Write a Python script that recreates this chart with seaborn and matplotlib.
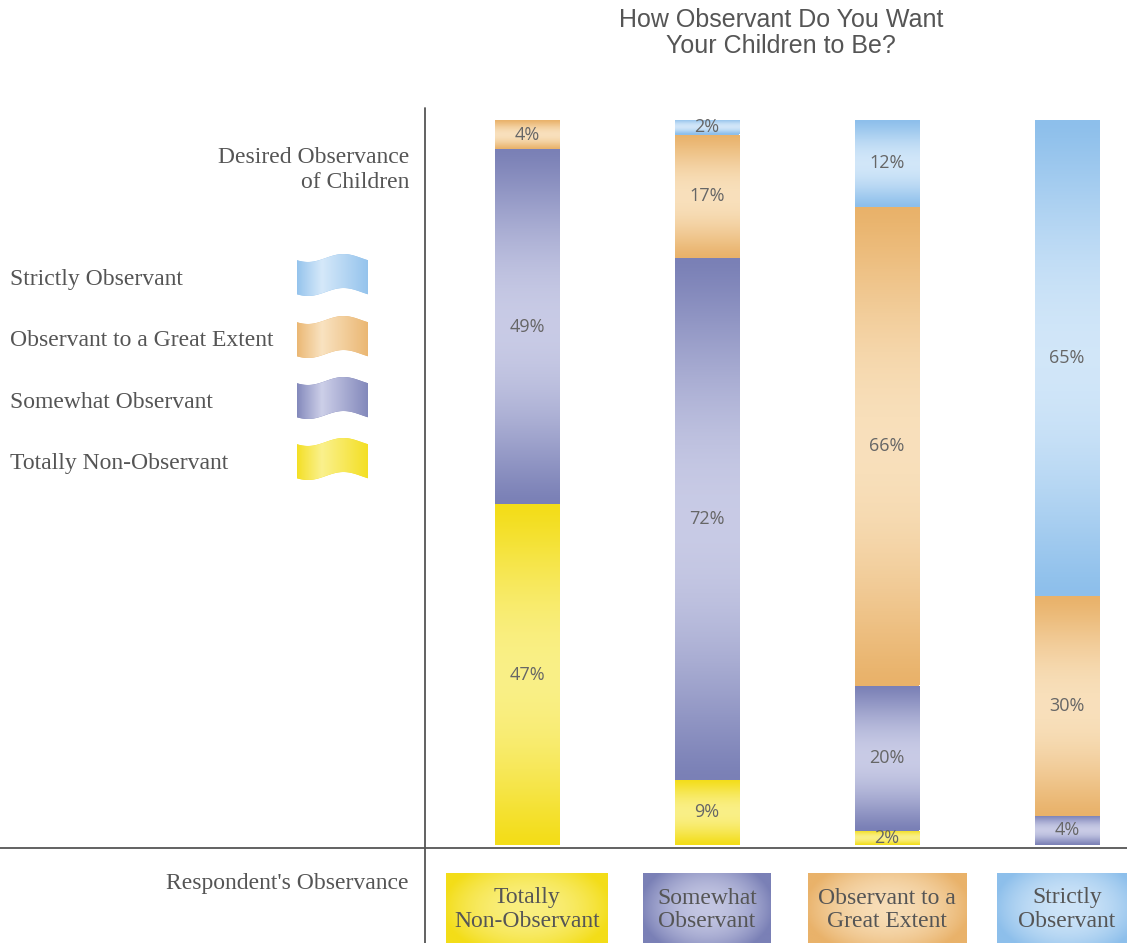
import numpy as np
import pandas as pd
import matplotlib
matplotlib.use("Agg")
import matplotlib.pyplot as plt
import seaborn as sns
from matplotlib.colors import LinearSegmentedColormap
from matplotlib.patches import Polygon, Rectangle
from matplotlib.lines import Line2D

# respondent's own observance (columns) and desired observance of children (stack layers)
respondent = ["Totally\nNon-Observant", "Somewhat\nObservant",
              "Observant to a\nGreat Extent", "Strictly\nObservant"]
desired = ["Totally Non-Observant", "Somewhat Observant",
           "Observant to a Great Extent", "Strictly Observant"]
totally_non = [47, 9, 2, 0]
somewhat = [49, 72, 20, 4]
great_extent = [4, 17, 66, 30]
strictly = [0, 2, 12, 65]

colors = ["#F3DD18", "#7A80B6", "#E9B26A", "#8DBFEB"]
lights = ["#FBF39A", "#D6D8EE", "#FBE8CA", "#DDEDFB"]
gray = "#555555"

sns.set_theme(style="white")
plt.rcParams["font.family"] = ["DejaVu Sans"]

W, H = 1127, 943
fig = plt.figure(figsize=(W / 100, H / 100), dpi=100)


def fx(px):
    return px / W


def fy(py):
    return 1 - py / H


def shade(c, lc, profile):
    return LinearSegmentedColormap.from_list("s", [c, lc])(profile)


ax = fig.add_axes([fx(425), fy(845), 1 - fx(425), fy(120) - fy(845)])

layers = [totally_non, somewhat, great_extent, strictly]
totals = np.sum(layers, axis=0)
bottom = np.zeros(len(respondent))
segs = []
for vals, c, lc in zip(layers, colors, lights):
    h = np.array(vals) / totals * 100
    n0 = len(ax.patches)
    sns.barplot(x=respondent, y=h, bottom=bottom, color=c, saturation=1,
                width=0.36, errorbar=None, order=respondent, ax=ax, linewidth=0)
    for p, v in zip(ax.patches[n0:], vals):
        segs.append((p, v, c, lc))
    bottom = bottom + h

# soft vertical shading inside each segment
t = np.linspace(0, 1, 200)
prof = np.sin(np.pi * t) ** 1.2 * 0.85
for p, v, c, lc in segs:
    if v == 0:
        continue
    x, y, w, hh = p.get_x(), p.get_y(), p.get_width(), p.get_height()
    img = shade(c, lc, prof)[:, None, :]
    im = ax.imshow(img, extent=[x, x + w, y, y + hh], aspect="auto",
                   origin="lower", zorder=2, interpolation="bilinear")
    im.set_clip_path(p)
    ax.text(x + w / 2, y + hh / 2, f"{v}%", ha="center", va="center",
            fontsize=13, color="#666666", family="Open Sans", zorder=3)

ax.set_xlim(-0.567, 3.333)
ax.set_ylim(0, 100)
ax.axis("off")

# category boxes under the baseline
bax = fig.add_axes([fx(425), 0, 1 - fx(425), fy(853)], sharex=ax)
bax.set_ylim(0, 1)
bax.axis("off")
box_w = [0.90, 0.71, 0.88, 0.78]
yy, xx = np.mgrid[-1:1:60j, -1:1:120j]
rad = np.clip(1 - (xx ** 2 * 0.9 + yy ** 2 * 0.5), 0, 1) * 0.8
for i, (lab, c, lc) in enumerate(zip(respondent, colors, lights)):
    r = Rectangle((i - box_w[i] / 2, 0), box_w[i], 0.778, color=c, lw=0)
    bax.add_patch(r)
    im = bax.imshow(shade(c, lc, rad), extent=[i - box_w[i] / 2, i + box_w[i] / 2, 0, 0.778],
                    aspect="auto", interpolation="bilinear", zorder=2)
    im.set_clip_path(r)
    bax.text(i, 0.37, lab, ha="center", va="center", fontsize=17,
             family="Liberation Serif", color=gray, linespacing=1.15, zorder=3)
bax.set_xlim(-0.567, 3.333)
bax.set_ylim(0, 1)

# frame lines
fig.add_artist(Line2D([fx(425), fx(425)], [0, fy(108)], color=gray, lw=1.3))
fig.add_artist(Line2D([0, 1], [fy(848), fy(848)], color=gray, lw=1.3))

# texts
fig.text(fx(781), fy(33), "How Observant Do You Want\nYour Children to Be?",
         ha="center", va="center", fontsize=18, family="Liberation Sans",
         color=gray, linespacing=1.1)
fig.text(fx(409), fy(170), "Desired Observance\nof Children", ha="right",
         va="center", fontsize=17, family="Liberation Serif", color=gray,
         linespacing=1.2)
fig.text(fx(409), fy(884), "Respondent's Observance", ha="right",
         va="center", fontsize=17, family="Liberation Serif", color=gray)

# legend with wavy flag swatches
lax = fig.add_axes([0, 0, fx(425), 1])
lax.set_xlim(0, 425)
lax.set_ylim(H, 0)
lax.axis("off")
leg_y = [275, 337, 398, 459]
order = [3, 2, 1, 0]
tx = np.linspace(0, 1, 40)
hprof = np.interp(np.linspace(0, 1, 120), [0, 0.08, 0.35, 1], [0.1, 0.3, 0.9, 0.1])
for yc, k in zip(leg_y, order):
    lax.text(10, yc + 4, desired[k], ha="left", va="center", fontsize=17,
             family="Liberation Serif", color=gray)
    x0, x1 = 297, 368
    xs = x0 + tx * (x1 - x0)
    wave = 4 * np.sin(2 * np.pi * tx + 0.6)
    top = yc - 17 + wave
    bot = yc + 17 + wave
    pts = np.r_[np.c_[xs, top], np.c_[xs[::-1], bot[::-1]]]
    poly = Polygon(pts, closed=True, color=colors[k], lw=0)
    lax.add_patch(poly)
    img = shade(colors[k], lights[k], hprof)[None, :, :]
    im = lax.imshow(img, extent=[x0, x1, yc + 24, yc - 24], aspect="auto",
                    interpolation="bilinear", zorder=2)
    im.set_clip_path(poly)
lax.set_xlim(0, 425)
lax.set_ylim(H, 0)

fig.savefig("out.png", dpi=100)
